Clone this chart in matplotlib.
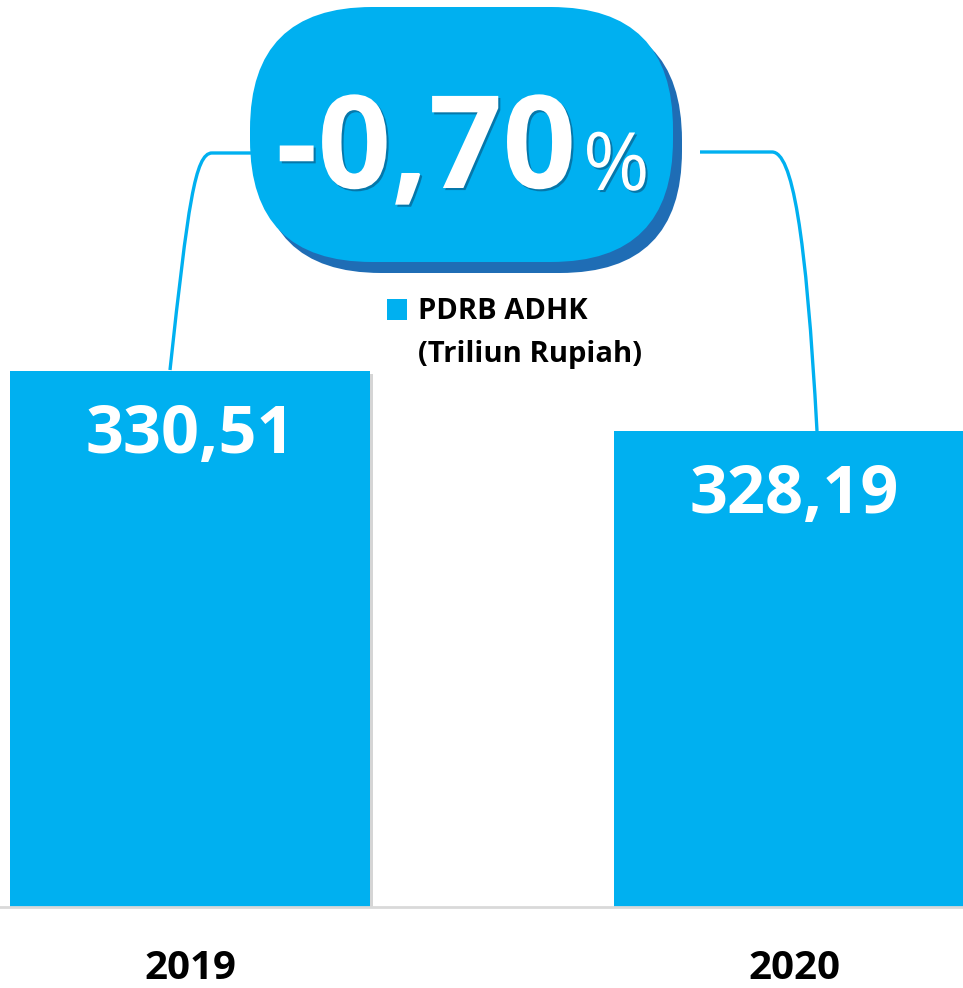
import matplotlib
matplotlib.use("Agg")
import matplotlib.pyplot as plt
from matplotlib.patches import FancyBboxPatch, Rectangle, PathPatch
from matplotlib.path import Path
from matplotlib.transforms import Affine2D
import matplotlib.patheffects as pe

# ---- data ----
years = ["2019", "2020"]
values = [330.51, 328.19]
value_labels = ["330,51", "328,19"]
growth_label = "-0,70"
legend_label = ["PDRB ADHK", "(Triliun Rupiah)"]

BAR = "#00B0F0"
SHADOW = "#1F6DB5"
FONT = "Open Sans"

W, H = 963, 988
fig = plt.figure(figsize=(W / 100, H / 100), dpi=100)
fig.patch.set_facecolor("white")

# axes: baseline 907 px from top
ax = fig.add_axes([0, 81 / H, 1, 907 / H])
ax.set_facecolor("none")
x = [0, 1]
bars = ax.bar(x, values, width=0.596, color=BAR, zorder=2)
for b in bars:
    b.set_path_effects([pe.SimplePatchShadow(offset=(2, -2), shadow_rgbFace="#888888", alpha=0.35), pe.Normal()])
ax.set_xlim(-0.3146, 1.2798)
ax.set_ylim(309.785, 344.86)
for s in ["top", "left", "right"]:
    ax.spines[s].set_visible(False)
ax.spines["bottom"].set_color("#d9d9d9")
ax.spines["bottom"].set_linewidth(2)
ax.set_yticks([])
ax.set_xticks(x, years)
ax.tick_params(axis="x", length=0, pad=30)
for t in ax.get_xticklabels():
    t.set_fontfamily(FONT)
    t.set_fontweight("bold")
    t.set_fontsize(29)
    t.set_color("black")

for xi, v, lab in zip(x, values, value_labels):
    ax.annotate(lab, xy=(xi, v), xytext=(0, -59), textcoords="offset points",
                ha="center", va="baseline", color="white", fontsize=48,
                fontweight="bold", fontfamily=FONT, zorder=3)

# pixel-coordinate transform (origin top-left)
px = Affine2D().scale(1 / W, -1 / H).translate(0, 1) + fig.transFigure

# connectors
left_path = Path([(170, 370), (188, 205), (195, 153), (212, 153), (262, 153)],
                 [Path.MOVETO, Path.CURVE4, Path.CURVE4, Path.CURVE4, Path.LINETO])
right_path = Path([(700, 152), (772, 152), (792, 152), (806, 230), (817, 431)],
                  [Path.MOVETO, Path.LINETO, Path.CURVE4, Path.CURVE4, Path.CURVE4])
for p in (left_path, right_path):
    fig.patches.append(PathPatch(p, transform=px, fill=False, edgecolor=BAR, lw=2.4, zorder=1))

# pill badge
shadow = FancyBboxPatch((259, 18), 423, 255, boxstyle="round,pad=0,rounding_size=122",
                        transform=px, facecolor=SHADOW, edgecolor="none", zorder=4)
pill = FancyBboxPatch((250, 7), 423, 255, boxstyle="round,pad=0,rounding_size=122",
                      transform=px, facecolor=BAR, edgecolor="none", zorder=5)
fig.patches.extend([shadow, pill])

txt_fx = [pe.withSimplePatchShadow(offset=(1.5, -1.5), shadow_rgbFace="#0b3f66", alpha=0.5)]
fig.text(576, 188, growth_label, transform=px, ha="right", va="baseline", color="white",
         fontsize=93, fontweight="bold", fontfamily=FONT, zorder=6, path_effects=txt_fx)
fig.text(583, 190, "%", transform=px, ha="left", va="baseline", color="white",
         fontsize=58, fontweight="normal", fontfamily=FONT, zorder=6, path_effects=txt_fx)

# legend
fig.patches.append(Rectangle((387, 299), 20, 21, transform=px, facecolor=BAR, edgecolor="none", zorder=3))
fig.text(418, 319, legend_label[0], transform=px, ha="left", va="baseline", color="black",
         fontsize=21, fontweight="bold", fontfamily=FONT)
fig.text(418, 362, legend_label[1], transform=px, ha="left", va="baseline", color="black",
         fontsize=21, fontweight="bold", fontfamily=FONT)

fig.savefig("out.png", dpi=100, facecolor="white")
